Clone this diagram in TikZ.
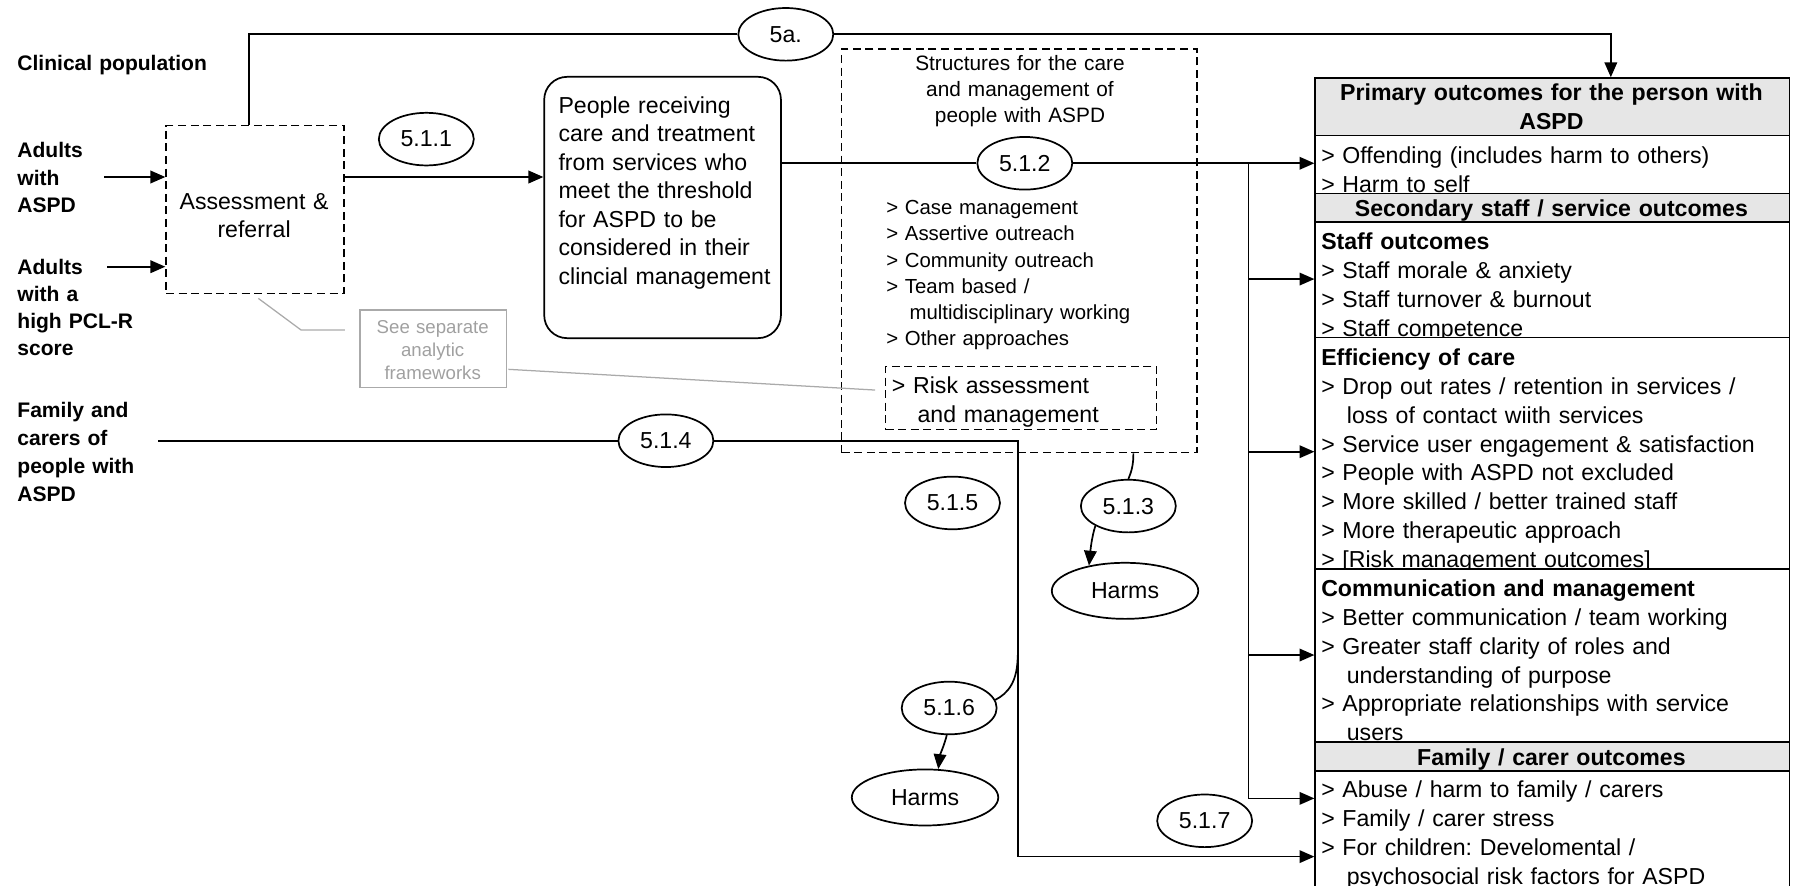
\documentclass[tikz,border=0pt]{standalone}
\usepackage{fontspec}
\setmainfont{Liberation Sans}
\usetikzlibrary{arrows.meta,shapes.geometric}
\definecolor{hdr}{RGB}{230,230,230}
\definecolor{lgray}{RGB}{160,160,160}
\definecolor{lgraybox}{RGB}{170,170,170}
\frenchspacing
\begin{document}
\begin{tikzpicture}[x=1pt,y=-1pt,
  ln/.style={line width=1.5pt},
  arr/.style={ln,-{Triangle[length=13pt,width=11pt]}},
  dsh/.style={draw,line width=1.2pt,dash pattern=on 7pt off 4pt},
  oval/.style={draw,ln,ellipse,minimum width=83pt,minimum height=46pt,inner sep=0pt,font=\fontsize{20.2}{24}\selectfont},
  harm/.style={oval,minimum width=128pt,minimum height=49pt},
  lbl/.style={inner sep=0pt,anchor=base west,text width=200pt,align=left,font=\bfseries\fontsize{18.4}{24}\selectfont},
  sect/.style={draw,ln,fill=white,anchor=north west,minimum width=414.5pt,inner sep=0pt},
  hsect/.style={sect,fill=hdr},
  stxt/.style={inner sep=0pt,anchor=base west,text width=405pt,align=left,font=\fontsize{20.2}{25.2}\selectfont\frenchspacing},
  htxt/.style={inner sep=0pt,anchor=base,text width=414pt,align=center,font=\bfseries\fontsize{20.2}{25.4}\selectfont},
]
\path[use as bounding box] (0,0) rectangle (1568,774);

% ---------- right outcome box ----------
\node[hsect,minimum height=50.2pt] (primH) at (1148.8,67.5) {};
\node[htxt] (primHt) at (1356,88.2) {Primary outcomes for the person with\\ASPD};
\node[sect,minimum height=50.7pt] (s1) at (1148.8,117.7) {};
\node[stxt] (s1t) at (1154.6,142.7) {> Offending (includes harm to others)\\> Harm to self};
\node[hsect,minimum height=25pt] (secH) at (1148.8,168.4) {};
\node[htxt] (secHt) at (1356,189.2) {Secondary staff / service outcomes};
\node[sect,minimum height=100.9pt] (staff) at (1148.8,193.4) {};
\node[stxt] (stafft) at (1154.6,218.4) {\textbf{Staff outcomes}\\> Staff morale \& anxiety\\> Staff turnover \& burnout\\> Staff competence};
\node[sect,minimum height=202.3pt] (eff) at (1148.8,294.3) {};
\node[stxt] (efft) at (1154.6,319.5) {\textbf{Efficiency of care}\\> Drop out rates / retention in services /\\\hspace*{22.4pt}loss of contact wiith services\\> Service user engagement \& satisfaction\\> People with ASPD not excluded\\> More skilled / better trained staff\\> More therapeutic approach\\> [Risk management outcomes]};
\node[sect,minimum height=151.1pt] (comm) at (1148.8,496.6) {};
\node[stxt] (commt) at (1154.6,521.4) {\textbf{Communication and management}\\> Better communication / team working\\> Greater staff clarity of roles and\\\hspace*{22.4pt}understanding of purpose\\> Appropriate relationships with service\\\hspace*{22.4pt}users};
\node[hsect,minimum height=25.3pt] (famH) at (1148.8,647.7) {};
\node[htxt] (famHt) at (1356,669.2) {Family / carer outcomes};
\node[sect,minimum height=103pt] (famS) at (1148.8,673) {};
\node[stxt] (famSt) at (1154.6,697.2) {> Abuse / harm to family / carers\\> Family / carer stress\\> For children: Develomental /\\\hspace*{22.4pt}psychosocial risk factors for ASPD};

% ---------- left labels ----------
\node[lbl] (clin) at (15,62) {Clinical population};
\node[lbl] (a1) at (15,137.7) {Adults\\with\\ASPD};
\node[lbl,font=\bfseries\fontsize{18.4}{23.8}\selectfont] (a2) at (15,239.7) {Adults\\with a\\high PCL-R\\score};
\node[lbl,font=\bfseries\fontsize{18.4}{24.3}\selectfont] (fam) at (15,365) {Family and\\carers of\\people with\\ASPD};

% ---------- assessment ----------
\node[dsh,anchor=north west,minimum width=155.5pt,minimum height=146.5pt,inner sep=0pt] (assess) at (144.5,109.3) {};
\node[inner sep=0pt,anchor=base,text width=150pt,align=center,font=\fontsize{20.2}{24.1}\selectfont] (assesstxt) at (222.1,183.5) {Assessment \&\\referral};
\coordinate (a1s) at (91.3,154.7);
\coordinate (a2s) at (93.7,233.1);
\draw[arr] (a1s) -- (a1s -| assess.west);
\draw[arr] (a2s) -- (a2s -| assess.west);

% ---------- people box ----------
\node[draw,ln,rounded corners=20pt,anchor=north west,minimum width=206.9pt,minimum height=228.4pt,inner sep=0pt] (pbox) at (474.9,66.4) {};
\node[stxt,text width=195pt,font=\fontsize{20.2}{24.9}\selectfont] (ptxt) at (488,99) {People receiving\\care and treatment\\from services who\\meet the threshold\\for ASPD to be\\considered in their\\clincial management};
\draw[arr] (a1s -| assess.east) -- (a1s -| pbox.west);
\node[oval] (e511) at (372.6,121.6) {5.1.1};

% ---------- top line 5a ----------
\coordinate (topL) at (217.4,30);
\coordinate (topR) at (1407.9,30);
\node[oval] (e5a) at (686.8,30) {5a.};
\draw[ln] (topL |- assess.north) -- (topL) -- (e5a);
\draw[arr] (e5a) -- (topR) -- (topR |- primH.north);

% ---------- structures ----------
\node[dsh,anchor=north west,minimum width=310.5pt,minimum height=352.8pt,inner sep=0pt] (struct) at (735,42.2) {};
\node[inner sep=0pt,anchor=base,text width=300pt,align=center,font=\fontsize{18.2}{22.6}\selectfont] (structtitle) at (891.5,61.9) {Structures for the care\\and management of\\people with ASPD};
\node[stxt,text width=260pt,font=\fontsize{17.8}{22.9}\selectfont] (structlist) at (774.4,187.6) {> Case management\\> Assertive outreach\\> Community outreach\\> Team based /\\\hspace*{20.4pt}multidisciplinary working\\> Other approaches};
\node[dsh,anchor=north west,minimum width=236.9pt,minimum height=55.4pt,inner sep=0pt] (risk) at (773.5,319.6) {};
\node[stxt,text width=230pt,font=\fontsize{20.2}{24.8}\selectfont] (risktxt) at (779.4,344.3) {> Risk assessment\\\hspace*{22.4pt}and management};

% ---------- grey note ----------
\node[draw=lgraybox,line width=1.1pt,anchor=north west,minimum width=128.3pt,minimum height=67.6pt,inner sep=0pt] (gbox) at (314,270.4) {};
\node[inner sep=0pt,anchor=base,text width=125pt,align=center,text=lgray,font=\fontsize{16.3}{20.4}\selectfont] (gtxt) at (378.2,291.3) {See separate\\analytic\\frameworks};
\coordinate (g1) at (225.8,260.8);
\coordinate (g2) at (263.1,288.4);
\coordinate (g3) at (301.5,288.4);
\draw[lgraybox,line width=1.1pt] (g1) -- (g2) -- (g3);
\coordinate (g4) at (444.3,322.8);
\coordinate (g5) at (764.8,340.9);
\draw[lgraybox,line width=1.1pt] (g4) -- (g5);

% ---------- 5.1.2 and bus ----------
\node[oval] (e512) at (895.7,142.7) {5.1.2};
\draw[ln] (pbox.east |- e512) -- (e512);
\draw[arr] (e512) -- (e512 -| s1.west);
\coordinate (bt) at (1091.1,142.7);
\coordinate (bb) at (1091.1,697.8);
\draw[ln] (bt) -- (bb);
\coordinate (b1) at (1091.1,243.9);
\coordinate (b2) at (1091.1,394.8);
\coordinate (b3) at (1091.1,572.5);
\draw[arr] (b1) -- (b1 -| staff.west);
\draw[arr] (b2) -- (b2 -| eff.west);
\draw[arr] (b3) -- (b3 -| comm.west);
\draw[arr] (bb) -- (bb -| famS.west);

% ---------- family line ----------
\coordinate (fs) at (138.5,385.2);
\node[oval] (e514) at (582,385.2) {5.1.4};
\coordinate (fc1) at (889.5,385.2);
\coordinate (fc2) at (889.5,748.7);
\draw[ln] (fs) -- (e514);
\draw[arr] (e514) -- (fc1) -- (fc2) -- (fc2 -| famS.west);

% ---------- harms ----------
\node[oval] (e513) at (986.2,442.3) {5.1.3};
\node[harm] (h1) at (983.3,516.4) {Harms};
\coordinate (c513) at (990.6,395);
\draw[ln] (c513 |- struct.south) .. controls (990.6,405) and (989.5,411) .. (e513.north);
\draw[arr] (e513.211) .. controls (954,470) and (953,482) .. (h1.145);

\node[oval] (e515) at (832.5,439.6) {5.1.5};
\node[oval] (e516) at (829.6,618.8) {5.1.6};
\node[harm] (h2) at (808.5,697) {Harms};
\coordinate (c516) at (889.5,572.5);
\draw[ln] (c516) .. controls (889.5,596) and (881,606) .. (e516.10);
\draw[arr] (e516.265) .. controls (825,652) and (821.5,660) .. (h2.65);
\node[oval] (e517) at (1052.9,717.4) {5.1.7};
\end{tikzpicture}
\end{document}
